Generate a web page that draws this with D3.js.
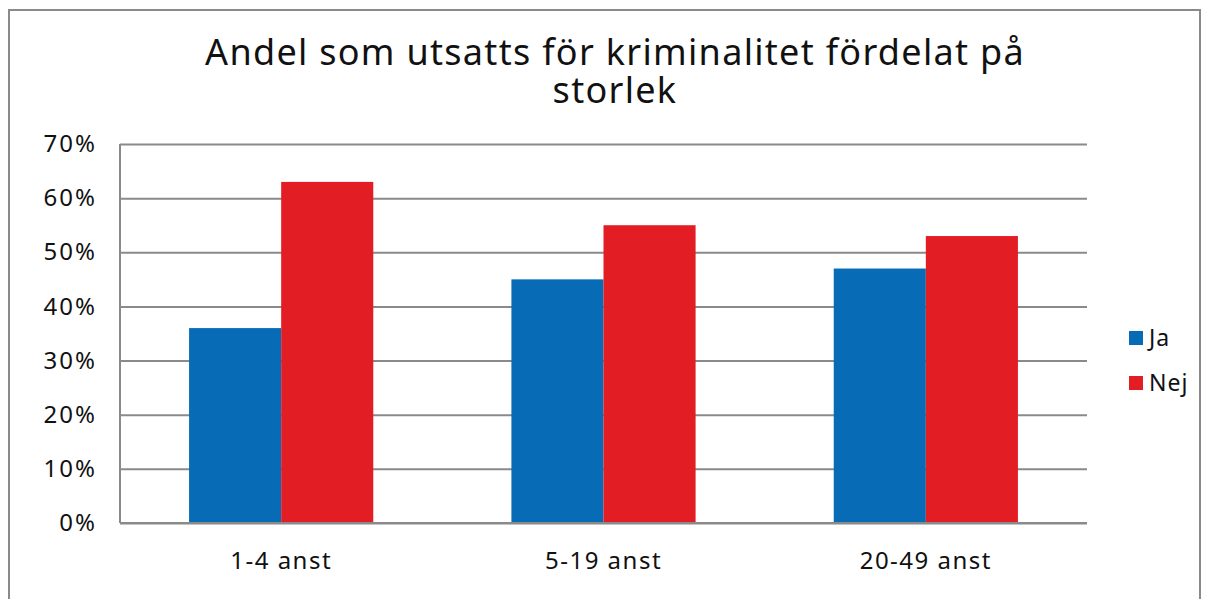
<!DOCTYPE html>
<html>
<head>
<meta charset="utf-8">
<script src="https://cdn.jsdelivr.net/npm/d3@7"></script>
<style>
  body { margin: 0; background: #fff; }
  text { font-family: "Noto Sans", sans-serif; fill: #111; }
</style>
</head>
<body>
<div id="chartContainer"></div>
<script>
// Data
const categories = ['1-4 anst', '5-19 anst', '20-49 anst'];
const series = ['Ja', 'Nej'];
const jaValues = [0.36, 0.45, 0.47];
const nejValues = [0.63, 0.55, 0.53];
const yTicks = [0, 0.1, 0.2, 0.3, 0.4, 0.5, 0.6, 0.7];
const titleLines = ['Andel som utsatts för kriminalitet fördelat på', 'storlek'];

const colors = { Ja: '#076CB5', Nej: '#E31D24' };
const gridColor = '#8a8a8a';

// Dimensions
const W = 1210, H = 599;
const plot = { left: 120, right: 1087, top: 144, bottom: 523 };

const svg = d3.select('#chartContainer')
    .append('svg')
    .attr('width', W)
    .attr('height', H);

// Outer frame
svg.append('rect')
    .attr('x', 9).attr('y', 10)
    .attr('width', 1191).attr('height', 620)
    .attr('fill', 'none')
    .attr('stroke', gridColor)
    .attr('stroke-width', 2);

// Scales
const x0 = d3.scaleBand().domain(categories).range([plot.left, plot.right]);
const bw = x0.bandwidth() / 3.5;
const x1 = d3.scaleBand().domain(series).range([bw * 0.75, bw * 2.75]);
const y = d3.scaleLinear().domain([0, 0.7]).range([plot.bottom, plot.top]);

// Gridlines + y axis
const yAxis = d3.axisLeft(y)
    .tickValues(yTicks)
    .tickFormat(d3.format('.0%'))
    .tickSize(-(plot.right - plot.left))
    .tickPadding(23);

const gy = svg.append('g')
    .attr('transform', `translate(${plot.left},0)`)
    .call(yAxis);
gy.select('.domain').remove();
gy.selectAll('.tick line').attr('stroke', gridColor).attr('stroke-width', 2);
gy.selectAll('.tick text')
    .attr('font-size', 24)
    .attr('fill', '#111')
    .style('letter-spacing', '2px')
    .style('font-family', '"Noto Sans", sans-serif');

// Left axis line
svg.append('line')
    .attr('x1', plot.left).attr('x2', plot.left)
    .attr('y1', plot.top).attr('y2', plot.bottom)
    .attr('stroke', gridColor).attr('stroke-width', 2);

// Bars
const rows = categories.map((c, i) => ({ cat: c, Ja: jaValues[i], Nej: nejValues[i] }));
const groups = svg.append('g').selectAll('g')
    .data(rows)
    .enter().append('g')
    .attr('transform', d => `translate(${x0(d.cat)},0)`);

groups.selectAll('rect')
    .data(d => series.map(s => ({ key: s, value: d[s] })))
    .enter().append('rect')
    .attr('x', d => x1(d.key))
    .attr('width', x1.bandwidth())
    .attr('y', d => y(d.value))
    .attr('height', d => y(0) - y(d.value))
    .attr('fill', d => colors[d.key]);

// Bottom axis line
svg.append('line')
    .attr('x1', plot.left).attr('x2', plot.right)
    .attr('y1', plot.bottom).attr('y2', plot.bottom)
    .attr('stroke', gridColor).attr('stroke-width', 2);

// Category labels
const xAxis = d3.axisBottom(x0).tickSize(0).tickPadding(29);
const gx = svg.append('g')
    .attr('transform', `translate(0,${plot.bottom})`)
    .call(xAxis);
gx.select('.domain').remove();
gx.selectAll('.tick text')
    .attr('font-size', 24)
    .attr('fill', '#111')
    .style('letter-spacing', '1.5px')
    .style('font-family', '"Noto Sans", sans-serif');

// Title
svg.selectAll('.title')
    .data(titleLines)
    .enter().append('text')
    .attr('class', 'title')
    .attr('x', 615)
    .attr('y', (d, i) => 65 + i * 38)
    .attr('text-anchor', 'middle')
    .attr('font-size', 36)
    .style('letter-spacing', '1.3px')
    .text(d => d);

// Legend
const legend = svg.selectAll('.legend')
    .data(series)
    .enter().append('g')
    .attr('class', 'legend')
    .attr('transform', (d, i) => `translate(1129,${331 + i * 45})`);

legend.append('rect')
    .attr('width', 14)
    .attr('height', 14)
    .attr('fill', d => colors[d]);

legend.append('text')
    .attr('x', 20)
    .attr('y', 7)
    .attr('dy', '.35em')
    .attr('font-size', 23)
    .style('letter-spacing', '1px')
    .text(d => d);
</script>
</body>
</html>
